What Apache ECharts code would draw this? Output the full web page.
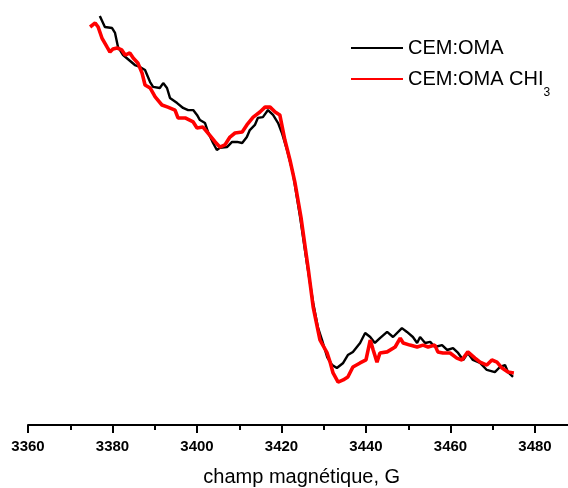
<!DOCTYPE html>
<html>
<head>
<meta charset="utf-8">
<script src="https://cdn.jsdelivr.net/npm/echarts@6/dist/echarts.min.js"></script>
<style>
  html, body { margin: 0; padding: 0; background: #fff; }
  #chart { width: 568px; height: 488px; }
</style>
</head>
<body>
<div id="chart"></div>
<script>
// EPR spectra: magnetic field (G) vs. derivative signal (arbitrary units)
const seriesNames = ['CEM:OMA', 'CEM:OMA CHI3'];

const fieldOMA = [3377.0, 3378.2, 3379.9, 3380.6, 3381.3, 3382.5, 3385.3, 3386.5, 3387.7, 3388.9,
  3389.6, 3391.2, 3392.0, 3392.9, 3393.6, 3395.3, 3396.7, 3397.9, 3399.1, 3400.0,
  3400.7, 3401.9, 3402.6, 3403.8, 3404.7, 3405.4, 3407.1, 3408.3, 3409.5, 3410.7,
  3411.8, 3412.5, 3413.7, 3414.4, 3415.6, 3416.8, 3418.0, 3419.2, 3420.1, 3421.3,
  3422.7, 3424.4, 3426.0, 3427.5, 3428.6, 3429.6, 3430.8, 3432.0, 3433.1, 3434.6,
  3435.7, 3436.9, 3438.6, 3439.8, 3441.0, 3442.1, 3443.3, 3445.0, 3446.4, 3448.5,
  3449.7, 3451.1, 3452.1, 3452.8, 3454.0, 3455.2, 3456.3, 3458.0, 3459.2, 3460.6,
  3461.8, 3463.0, 3464.1, 3465.3, 3467.0, 3468.6, 3470.5, 3471.7, 3472.9, 3473.6, 3474.8];
const signalOMA = [92.5, 87.3, 86.8, 84.5, 77.9, 74.1, 69.4, 68.5, 67.1, 61.4,
  59.1, 58.6, 60.9, 58.6, 53.9, 51.5, 49.2, 48.2, 48.2, 45.9,
  43.5, 42.1, 37.9, 32.7, 29.4, 30.4, 30.8, 33.2, 33.2, 32.7,
  35.5, 38.8, 41.2, 44.5, 44.9, 48.2, 45.9, 42.1, 37.4, 29.4,
  18.6, -2.1, -23.8, -42.6, -53.9, -60.0, -68.0, -71.8, -73.2, -70.8,
  -67.1, -65.6, -61.4, -56.7, -58.6, -61.4, -59.1, -56.2, -58.6, -54.4,
  -56.2, -58.6, -61.4, -58.6, -61.4, -60.9, -63.3, -62.4, -64.7, -63.8,
  -66.1, -69.4, -66.1, -69.4, -70.8, -74.1, -75.1, -72.7, -71.8, -75.1, -77.4];

const fieldCHI3 = [3374.7, 3375.9, 3376.6, 3377.5, 3378.7, 3379.4, 3380.1, 3381.1, 3382.2, 3383.0,
  3384.1, 3384.9, 3386.0, 3387.0, 3387.7, 3388.9, 3390.1, 3391.7, 3393.1, 3394.8,
  3395.5, 3397.2, 3399.1, 3400.0, 3401.4, 3402.6, 3404.3, 3405.4, 3406.6, 3407.8,
  3409.0, 3410.7, 3411.8, 3413.3, 3414.9, 3416.1, 3417.3, 3418.5, 3419.6, 3420.8,
  3422.0, 3423.2, 3424.6, 3426.3, 3427.5, 3429.1, 3430.8, 3431.5, 3432.2, 3433.4,
  3434.6, 3435.7, 3436.9, 3438.6, 3440.0, 3441.0, 3441.7, 3442.6, 3443.3, 3445.0,
  3446.9, 3448.1, 3448.8, 3450.4, 3452.1, 3453.5, 3454.7, 3456.3, 3457.0, 3458.2,
  3459.9, 3461.5, 3462.7, 3464.1, 3465.8, 3467.0, 3468.6, 3469.8, 3471.0, 3472.2, 3473.6, 3475.0];
const signalCHI3 = [87.3, 89.2, 87.3, 82.1, 77.9, 75.5, 76.9, 77.4, 76.5, 74.1,
  75.1, 72.7, 70.4, 65.6, 60.0, 58.6, 54.4, 50.6, 49.6, 48.2,
  44.5, 44.5, 42.6, 39.8, 40.2, 37.4, 33.2, 30.8, 31.8, 35.5,
  37.4, 37.9, 41.2, 44.9, 47.3, 49.6, 49.6, 47.3, 45.9, 34.1,
  24.7, 13.9, -2.1, -26.1, -44.5, -60.0, -66.1, -70.4, -75.5, -79.8,
  -78.8, -77.4, -72.7, -70.8, -69.4, -60.0, -64.7, -70.4, -66.1, -65.6,
  -63.3, -59.1, -61.4, -62.4, -63.3, -62.4, -63.3, -62.4, -65.6, -66.1,
  -66.1, -68.5, -69.4, -65.6, -68.5, -70.4, -71.8, -69.4, -70.4, -73.2, -75.1, -75.5];

const fieldTicks = { min: 3360, max: 3500, step: 20 };

const pairs = (xs, ys) => xs.map((x, i) => [x, ys[i]]);
const FONT = '"Liberation Sans", Arial, sans-serif';

const chart = echarts.init(document.getElementById('chart'), null, { renderer: 'canvas' });
chart.setOption({
  backgroundColor: '#ffffff',
  animation: false,
  grid: { left: 28, width: 591.5, top: 0, bottom: 63, containLabel: false, outerBoundsMode: 'none' },
  xAxis: {
    type: 'value',
    min: fieldTicks.min,
    max: fieldTicks.max,
    interval: fieldTicks.step,
    name: 'champ magnétique, G',
    nameLocation: 'middle',
    nameGap: 42,
    nameTextStyle: { fontFamily: FONT, fontSize: 20, color: '#000', padding: [0, 44, 0, 0] },
    axisLine: { show: true, onZero: false, lineStyle: { color: '#000', width: 2 } },
    axisTick: { show: true, length: 8, lineStyle: { color: '#000', width: 2 } },
    minorTick: { show: true, splitNumber: 2, length: 5, lineStyle: { color: '#000', width: 2 } },
    axisLabel: {
      fontFamily: FONT, fontSize: 15, fontWeight: 'bold', color: '#000', margin: 14,
      formatter: v => String(v)
    },
    splitLine: { show: false },
    minorSplitLine: { show: false }
  },
  yAxis: { type: 'value', min: -100, max: 100, show: false },
  legend: {
    orient: 'vertical',
    left: 350,
    top: 38,
    padding: 0,
    itemGap: 11,
    itemWidth: 52,
    itemHeight: 14,
    data: seriesNames,
    itemStyle: { opacity: 0 },
    formatter: name => name === 'CEM:OMA CHI3' ? '{n|CEM:OMA CHI}{s|3}' : '{n|' + name + '}',
    textStyle: {
      color: '#000',
      rich: {
        n: { fontFamily: FONT, fontSize: 20, color: '#000', lineHeight: 40 },
        s: { fontFamily: FONT, fontSize: 12, color: '#000', verticalAlign: 'bottom' }
      }
    }
  },
  series: [
    {
      name: seriesNames[0],
      type: 'line',
      data: pairs(fieldOMA, signalOMA),
      showSymbol: false,
      symbol: 'none',
      lineStyle: { color: '#000000', width: 2.4 },
      itemStyle: { color: '#000000' },
      z: 2
    },
    {
      name: seriesNames[1],
      type: 'line',
      data: pairs(fieldCHI3, signalCHI3),
      showSymbol: false,
      symbol: 'none',
      lineStyle: { color: '#ff0000', width: 3.6 },
      itemStyle: { color: '#ff0000' },
      z: 3
    }
  ]
});
</script>
</body>
</html>
